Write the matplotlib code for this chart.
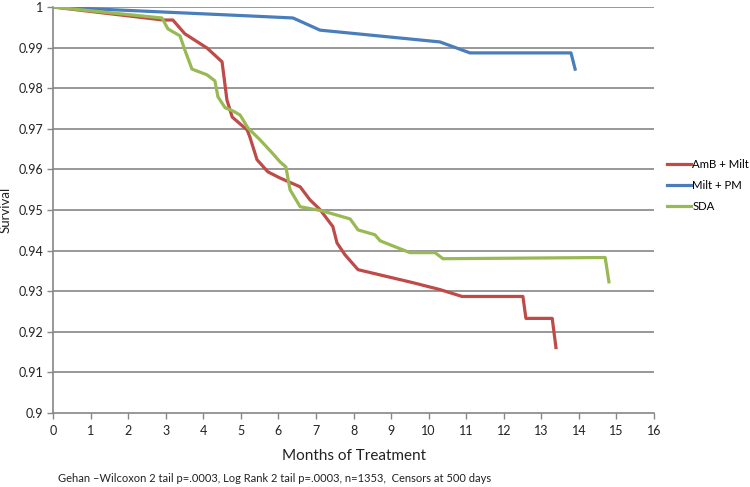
import matplotlib
matplotlib.use("Agg")
import matplotlib.pyplot as plt
from matplotlib.ticker import FuncFormatter

plt.rcParams["font.family"] = ["Lato", "DejaVu Sans"]

# AmB + Milt
amb_months = [0, 2.93, 3.19, 3.51, 4.10, 4.50, 4.63, 4.77, 5.17, 5.24, 5.43, 5.72, 6.04,
              6.58, 6.84, 7.11, 7.45, 7.56, 7.77, 8.12, 9.58, 10.30, 10.89, 12.51, 12.59,
              13.29, 13.39]
amb_surv = [1.0, 0.9968, 0.9968, 0.9934, 0.9899, 0.9865, 0.9771, 0.9729, 0.9697, 0.9680,
            0.9624, 0.9594, 0.9579, 0.9557, 0.9525, 0.9501, 0.9459, 0.9419, 0.9390, 0.9353,
            0.9321, 0.9304, 0.9287, 0.9287, 0.9233, 0.9233, 0.9161]

# Milt + PM
pm_months = [0, 5.24, 6.39, 7.11, 10.30, 11.10, 13.79, 13.90]
pm_surv = [1.0, 0.9978, 0.9973, 0.9943, 0.9914, 0.9887, 0.9887, 0.9847]

# SDA
sda_months = [0, 2.90, 3.06, 3.38, 3.51, 3.70, 4.10, 4.31, 4.39, 4.58, 4.79, 4.98, 5.19,
              5.51, 5.83, 6.04, 6.20, 6.31, 6.58, 7.16, 7.91, 8.12, 8.57, 8.71, 9.50,
              10.17, 10.38, 14.70, 14.80]
sda_surv = [1.0, 0.9973, 0.9946, 0.9929, 0.9894, 0.9847, 0.9833, 0.9818, 0.9779, 0.9752,
            0.9744, 0.9734, 0.9702, 0.9673, 0.9641, 0.9619, 0.9606, 0.9550, 0.9508, 0.9498,
            0.9478, 0.9451, 0.9439, 0.9424, 0.9395, 0.9395, 0.9380, 0.9383, 0.9323]

x_ticks = list(range(0, 17))
y_ticks = [0.9, 0.91, 0.92, 0.93, 0.94, 0.95, 0.96, 0.97, 0.98, 0.99, 1.0]

fig = plt.figure(figsize=(7.5, 4.87), dpi=100)
ax = fig.add_axes([0.0707, 0.152, 0.8013, 0.8336])

grid_col = "#868686"
for y in y_ticks[1:]:
    ax.axhline(y, color=grid_col, lw=1.2, zorder=1)

ax.plot(amb_months, amb_surv, color="#BE4B48", lw=2.3, label="AmB + Milt", zorder=3)
ax.plot(pm_months, pm_surv, color="#4A7EBB", lw=2.3, label="Milt + PM", zorder=3)
ax.plot(sda_months, sda_surv, color="#98B954", lw=2.3, label="SDA", zorder=3)

ax.set_xlim(0, 16)
ax.set_ylim(0.9, 1.0)
ax.set_xticks(x_ticks)
ax.set_yticks(y_ticks)
ax.yaxis.set_major_formatter(FuncFormatter(lambda v, p: "%g" % round(v, 2)))

for s in ["top", "right"]:
    ax.spines[s].set_visible(False)
for s in ["left", "bottom"]:
    ax.spines[s].set_color(grid_col)
    ax.spines[s].set_linewidth(1.2)
ax.tick_params(axis="both", colors=grid_col, labelcolor="#222222", labelsize=9,
               length=4, width=1.0, direction="out")
ax.tick_params(axis="x", pad=5)
ax.tick_params(axis="y", pad=3)

ax.set_ylabel("Survival", fontsize=9.5, color="#222222", labelpad=5)
ax.set_xlabel("Months of Treatment", fontsize=11, color="#222222", labelpad=8)

ax.legend(loc="center left", bbox_to_anchor=(1.008, 0.56), frameon=False, fontsize=8.2,
          handlelength=2.1, handletextpad=0.15, labelspacing=0.85, borderaxespad=0.3)

fig.text(0.077, 0.01, "Gehan \u2013Wilcoxon 2 tail p=.0003, Log Rank 2 tail p=.0003, n=1353,  Censors at 500 days",
         fontsize=8, color="#222222")

fig.savefig("out.png", dpi=100)
